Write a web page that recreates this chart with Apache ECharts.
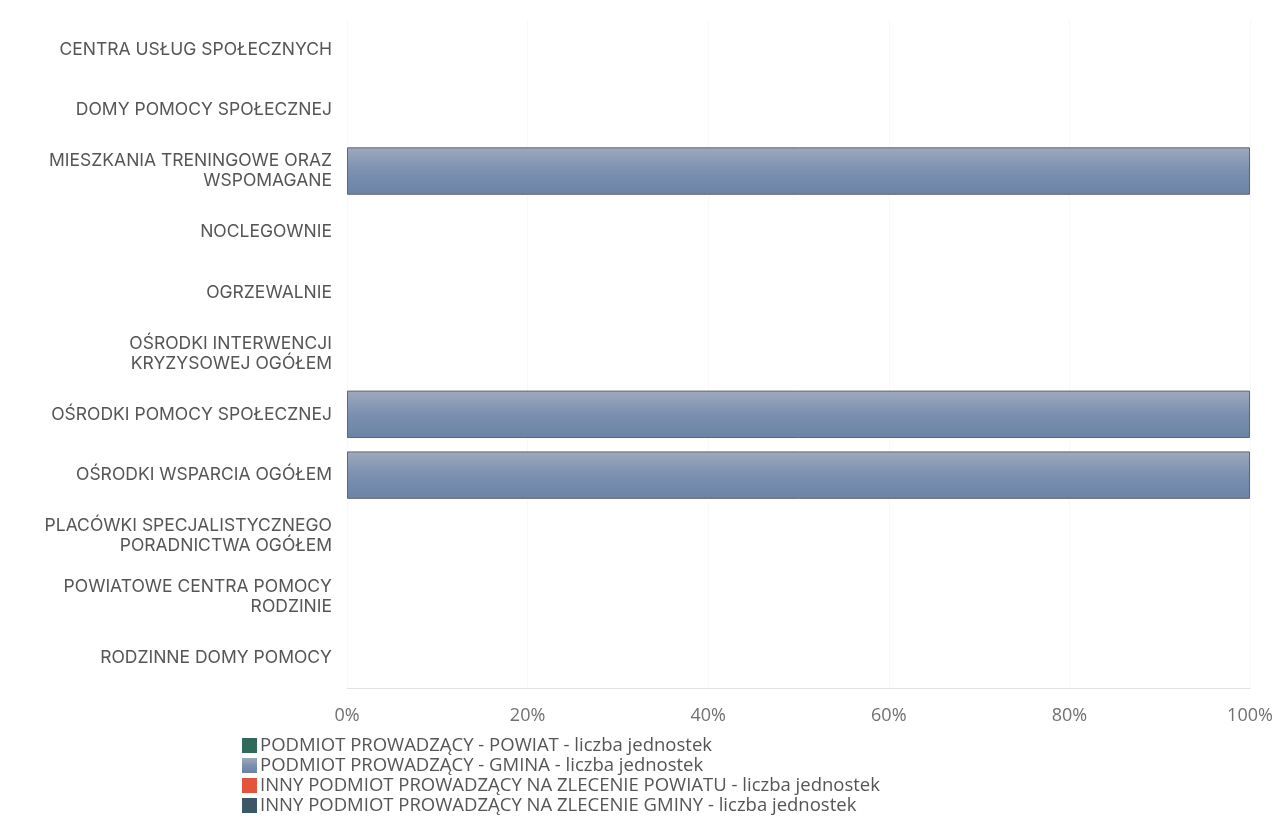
<!DOCTYPE html>
<html>
<head>
<meta charset="utf-8">
<script src="https://cdn.jsdelivr.net/npm/echarts@6/dist/echarts.min.js"></script>
<style>
html, body { margin: 0; padding: 0; background: #fff; }
#chart { width: 1272px; height: 839px; }
</style>
</head>
<body>
<div id="chart"></div>
<script>
// categories, top to bottom
var categories = [
    "CENTRA USŁUG SPOŁECZNYCH",
    "DOMY POMOCY SPOŁECZNEJ",
    "MIESZKANIA TRENINGOWE ORAZ\nWSPOMAGANE",
    "NOCLEGOWNIE",
    "OGRZEWALNIE",
    "OŚRODKI INTERWENCJI\nKRYZYSOWEJ OGÓŁEM",
    "OŚRODKI POMOCY SPOŁECZNEJ",
    "OŚRODKI WSPARCIA OGÓŁEM",
    "PLACÓWKI SPECJALISTYCZNEGO\nPORADNICTWA OGÓŁEM",
    "POWIATOWE CENTRA POMOCY\nRODZINIE",
    "RODZINNE DOMY POMOCY"
];

var seriesNames = [
    "PODMIOT PROWADZĄCY - POWIAT - liczba jednostek",
    "PODMIOT PROWADZĄCY - GMINA - liczba jednostek",
    "INNY PODMIOT PROWADZĄCY NA ZLECENIE POWIATU - liczba jednostek",
    "INNY PODMIOT PROWADZĄCY NA ZLECENIE GMINY - liczba jednostek"
];

// share of units in percent
var powiatShare    = [0, 0, 0, 0, 0, 0, 0, 0, 0, 0, 0];
var gminaShare     = [0, 0, 100, 0, 0, 0, 100, 100, 0, 0, 0];
var innyPowShare   = [0, 0, 0, 0, 0, 0, 0, 0, 0, 0, 0];
var innyGmShare    = [0, 0, 0, 0, 0, 0, 0, 0, 0, 0, 0];

var xTicks = ["0%", "20%", "40%", "60%", "80%", "100%"];

var colors = ["#2f6b5b", "#7a8fae", "#e0553b", "#3b5868"];

function grad(c1, c2, c3)
{
    return new echarts.graphic.LinearGradient(0, 0, 0, 1, [
        { offset: 0, color: c1 },
        { offset: 0.5, color: c2 },
        { offset: 1, color: c3 }
    ]);
}

var myChart = echarts.init(document.getElementById('chart'));

var allData = [powiatShare, gminaShare, innyPowShare, innyGmShare];
var series = allData.map(function (d, i) {
    return {
        name: seriesNames[i],
        type: 'bar',
        stack: 'total',
        barWidth: '78%',
        // empty shares are not drawn at all
        data: d.map(function (v) { return v === 0 ? '-' : v; }),
        itemStyle: {
            color: i === 1 ? grad('#9ea9bc', '#7b90b0', '#6a83a6') : colors[i],
            borderColor: i === 1 ? '#5f6672' : colors[i],
            borderWidth: 1
        }
    };
});

var option = {
    animation: false,
    color: colors,
    grid: {
        left: 347,
        right: 22,
        top: 19,
        bottom: 151,
        containLabel: false,
        outerBoundsMode: 'none'
    },
    xAxis: {
        type: 'value',
        min: 0,
        max: 100,
        interval: 20,
        axisLine: { show: true, lineStyle: { color: '#e2e2e2' } },
        axisTick: { show: false },
        splitLine: { show: true, lineStyle: { color: '#f8f8f8' } },
        axisLabel: {
            margin: 19,
            fontFamily: 'Open Sans',
            fontSize: 18,
            color: '#707070',
            formatter: function (v) { return xTicks[v / 20]; }
        }
    },
    yAxis: {
        type: 'category',
        inverse: true,
        data: categories,
        axisLine: { show: false },
        axisTick: { show: false },
        axisLabel: {
            margin: 15,
            fontFamily: 'Inter',
            fontSize: 17.5,
            color: '#555',
            lineHeight: 20,
            align: 'right'
        }
    },
    legend: {
        orient: 'vertical',
        left: 237,
        top: 731,
        itemWidth: 15,
        itemHeight: 15,
        itemGap: 1,
        icon: 'rect',
        itemStyle: { borderWidth: 0 },
        textStyle: {
            fontFamily: 'Open Sans',
            fontSize: 18.5,
            lineHeight: 18,
            color: '#555',
            padding: [0, 0, 0, -2]
        },
        data: seriesNames
    },
    series: series
};

myChart.setOption(option);
</script>
</body>
</html>
